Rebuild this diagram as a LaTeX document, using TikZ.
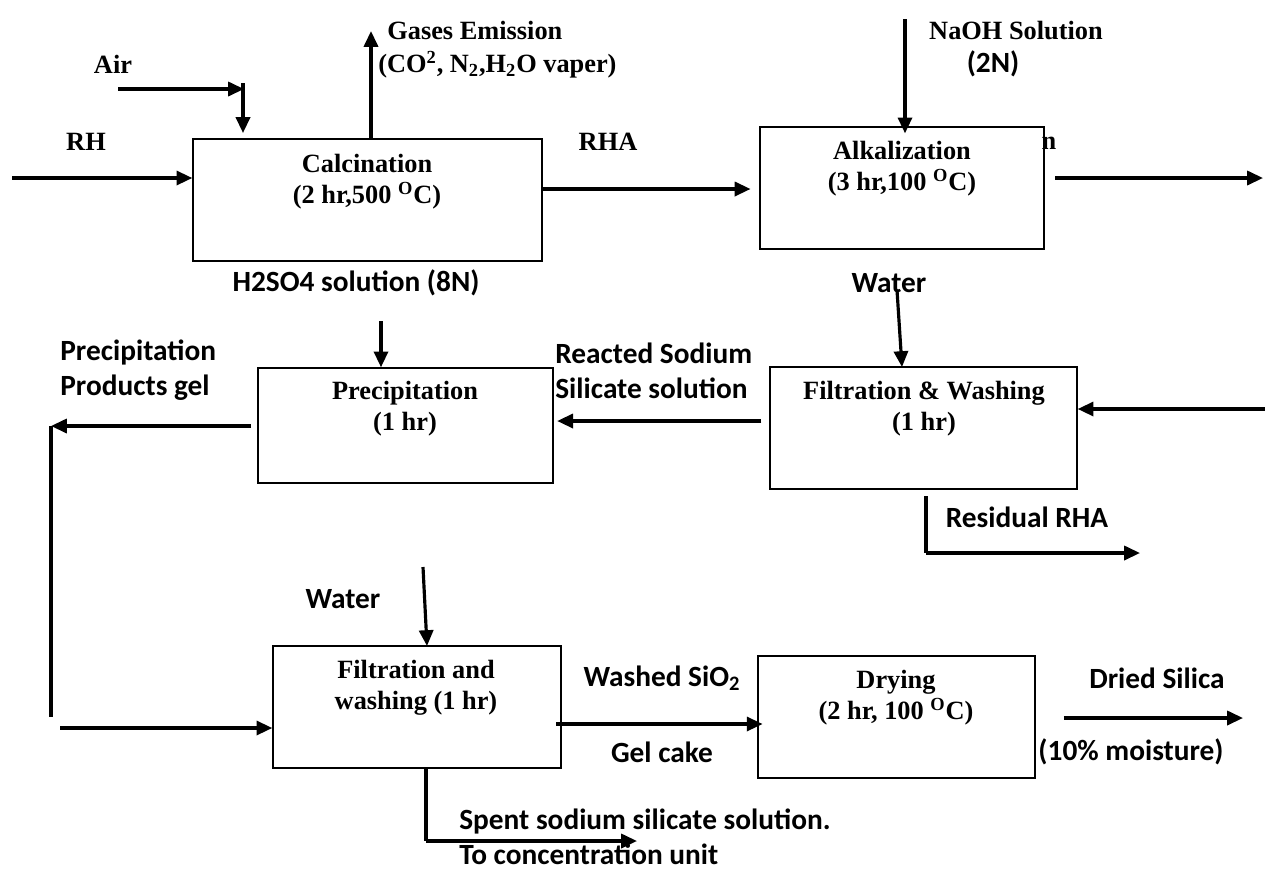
\documentclass[tikz,border=0pt]{standalone}
\usepackage{fontspec}
\setmainfont{Liberation Serif}
\newfontfamily\calfont{Carlito}
\usetikzlibrary{arrows.meta}

\begin{document}
\begin{tikzpicture}[x=0.02cm,y=-0.02cm,
    box/.style={draw,line width=0.8pt,inner sep=0pt},
    flow/.style={line width=1.8pt,-{Triangle[length=9pt,width=8pt]}},
    pipe/.style={line width=1.8pt},
    proc/.style={font=\bfseries\fontsize{15}{17.5}\selectfont,align=center,inner sep=0pt},
    tag/.style={font=\bfseries\fontsize{15}{17}\selectfont,inner sep=0pt},
    lab/.style={font=\calfont\bfseries\fontsize{16.7}{20}\selectfont,align=left,inner sep=0pt}]
    \useasboundingbox (0,0) rectangle (1265,870);

    \node[box,minimum width=6.98cm,minimum height=2.44cm] (calc) at (367.5,200) {};
    \node[box,minimum width=5.68cm,minimum height=2.44cm] (alk) at (902,188) {};
    \node[box,minimum width=6.14cm,minimum height=2.44cm] (filtw) at (923.5,428) {};
    \node[box,minimum width=5.90cm,minimum height=2.30cm] (precip) at (405.5,425.5) {};
    \node[box,minimum width=5.76cm,minimum height=2.44cm] (filt) at (417,707) {};
    \node[box,minimum width=5.54cm,minimum height=2.44cm] (dry) at (896.5,717) {};

    \node[proc] (calctxt) at (367,181.5) {Calcination\\(2 hr,500 \textsuperscript{O}C)};
    \node[proc] (alktxt) at (902,168.5) {Alkalization\\(3 hr,100 \textsuperscript{O}C)};
    \node[proc] (filtwtxt) at (924,409) {Filtration \& Washing\\(1 hr)};
    \node[proc] (preciptxt) at (405,409) {Precipitation\\(1 hr)};
    \node[proc] (filttxt) at (416,687.5) {Filtration and\\washing (1 hr)};
    \node[proc] (drytxt) at (896,697.5) {Drying\\(2 hr, 100 \textsuperscript{O}C)};

    \node[tag] (airlab) at (113,64) {Air};
    \node[tag] (rhlab) at (86,142) {RH};
    \node[tag,anchor=west] (gaslab) at (387,30) {Gases Emission};
    \node[tag,anchor=west] (gasmix) at (378,65) {(CO\textsuperscript{2}, N\textsubscript{2},H\textsubscript{2}O vaper)};
    \node[tag] (rhalab) at (608,142) {RHA};
    \node[tag] (naohlab) at (1016,31) {NaOH Solution};
    \node[lab] (naohconc) at (993,64) {(2N)};
    \node[tag] (nfrag) at (1049,143) {n};
    \node[lab] (acidlab) at (356,283) {H2SO4 solution (8N)};
    \node[lab] (waterlab) at (889,283) {Water};
    \node[lab,anchor=west] (reactlab) at (555,370.5) {Reacted Sodium\\Silicate solution};
    \node[lab,anchor=west] (geltag) at (60,370.5) {Precipitation\\Products gel};
    \node[lab] (residlab) at (1027,517) {Residual RHA};
    \node[lab] (washwater) at (343,599) {Water};
    \node[lab] (washlab) at (662,678) {Washed SiO\textsubscript{2}};
    \node[lab] (cakelab) at (662,752) {Gel cake};
    \node[lab] (driedlab) at (1157,678) {Dried Silica};
    \node[lab] (moistlab) at (1131,752) {(10\% moisture)};
    \node[lab,anchor=west] (spentlab) at (459,821) {Spent sodium silicate solution.};
    \node[lab,anchor=west] (conclab) at (459,854) {To concentration unit};

    \coordinate (rhin) at (12,178);
    \coordinate (airin) at (118,89);
    \coordinate (airbend) at (244,89);
    \coordinate (airtop) at (243,83);
    \coordinate (gasout) at (371,31);
    \coordinate (rhay) at (600,189);
    \coordinate (naohin) at (905,19);
    \coordinate (alkout) at (1263,178);
    \coordinate (waterin) at (897,290);
    \coordinate (waterend) at (902,367);
    \coordinate (filtin) at (1265,409);
    \coordinate (reacty) at (660,421);
    \coordinate (acidin) at (381,321);
    \coordinate (gelcorner) at (51,426);
    \coordinate (gelbottom) at (51,717);
    \coordinate (feedin) at (60,728);
    \coordinate (washin) at (423,567);
    \coordinate (washend) at (427,646);
    \coordinate (washy) at (660,724);
    \coordinate (driedout) at (1243,718);
    \coordinate (spentcorner) at (426,841);
    \coordinate (spentout) at (637,841);
    \coordinate (residtop) at (926,496);
    \coordinate (residcorner) at (926,553);
    \coordinate (residout) at (1140,553);

    \draw[flow] (rhin) -- (calc.west |- rhin);
    \draw[flow] (airin) -- (airbend);
    \draw[flow,shorten >=3pt] (airtop) -- (calc.north -| airtop);
    \draw[flow] (calc.north -| gasout) -- (gasout);
    \draw[flow,shorten >=5pt] (calc.east |- rhay) -- (alk.west |- rhay);
    \draw[flow,shorten >=-4pt] (naohin) -- (alk.north -| naohin);
    \draw[flow,shorten <=6pt] (alk.east |- alkout) -- (alkout);
    \draw[flow] (waterin) -- (waterend);
    \draw[flow] (filtin) -- (filtw.east |- filtin);
    \draw[flow,shorten <=4.5pt,shorten >=2pt] (filtw.west |- reacty) -- (precip.east |- reacty);
    \draw[flow] (acidin) -- (precip.north -| acidin);
    \draw[flow,shorten <=3.5pt] (precip.west |- gelcorner) -- (gelcorner);
    \draw[pipe] (gelcorner) -- (gelbottom);
    \draw[flow] (feedin) -- (filt.west |- feedin);
    \draw[flow] (washin) -- (washend);
    \draw[flow,shorten <=-3pt,shorten >=-3pt] (filt.east |- washy) -- (dry.west |- washy);
    \draw[flow,shorten <=16pt] (dry.east |- driedout) -- (driedout);
    \draw[pipe] (filt.south -| spentcorner) -- (spentcorner);
    \draw[flow] (spentcorner) -- (spentout);
    \draw[pipe] (residtop) -- (residcorner);
    \draw[flow] (residcorner) -- (residout);
\end{tikzpicture}
\end{document}
